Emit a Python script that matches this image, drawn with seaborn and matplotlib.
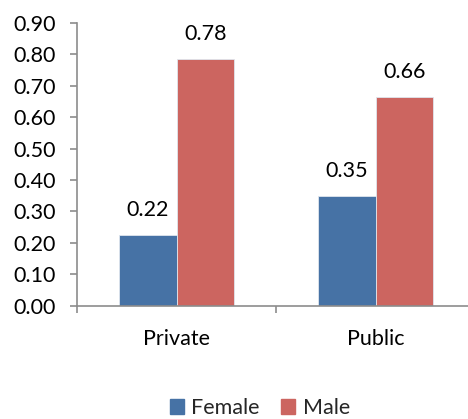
import pandas as pd
import numpy as np
import matplotlib
matplotlib.use("Agg")
import matplotlib.pyplot as plt
import seaborn as sns

# -----------------------------
# Data
# -----------------------------
sectors = ['Private', 'Public']
genders = ['Female', 'Male']
female_vals = [0.224, 0.348]
male_vals = [0.784, 0.663]
colors = ['#4672A5', '#CC6560']

df = pd.DataFrame({
    'sector': sectors * 2,
    'gender': ['Female'] * 2 + ['Male'] * 2,
    'value': female_vals + male_vals,
})

sns.set_style('white')
plt.rcParams['font.family'] = ['Lato', 'DejaVu Sans']
plt.rcParams['font.size'] = 15.5

fig = plt.figure(figsize=(4.68, 4.19), dpi=100)
ax = fig.add_axes([77/468, 1 - 305.5/419, 398/468, 282.5/419])

sns.barplot(data=df, x='sector', y='value', hue='gender', hue_order=genders,
            palette=colors, saturation=1, width=0.58, edgecolor='#dfe6ee',
            linewidth=0.6, ax=ax, legend=False)

# value labels
for cont in ax.containers:
    ax.bar_label(cont, fmt='%.2f', padding=11, fontsize=15.5, color='#000000')

ax.set_ylim(0, 0.9)
ax.set_xlim(-0.5, 1.5)
ax.set_yticks(np.arange(0, 0.91, 0.1))
ax.set_yticklabels([f'{v:.2f}' for v in np.arange(0, 0.91, 0.1)])
ax.set_xlabel('')
ax.set_ylabel('')

for s in ['top', 'right']:
    ax.spines[s].set_visible(False)
for s in ['left', 'bottom']:
    ax.spines[s].set_color('#8c8c8c')
    ax.spines[s].set_linewidth(1.2)

ax.tick_params(axis='y', direction='out', length=5, width=1.2, color='#8c8c8c',
               pad=10, labelsize=15.5, labelcolor='#000000', left=True)
ax.tick_params(axis='x', which='major', length=0, pad=17, labelsize=15.5,
               labelcolor='#000000')
ax.set_xticks([-0.5, 0.5, 1.5], minor=True)
ax.tick_params(axis='x', which='minor', direction='out', length=5, width=1.2,
               color='#8c8c8c', bottom=True)

# legend at bottom
handles = [plt.Rectangle((0, 0), 1, 1, color=c) for c in colors]
fig.legend(handles, genders, loc='center', bbox_to_anchor=(0.555, 1 - 408/419),
           ncol=2, frameon=False, fontsize=15.5, handlelength=0.65, handleheight=0.7,
           handletextpad=0.35, columnspacing=1.0)

fig.savefig('out.png', dpi=100)
